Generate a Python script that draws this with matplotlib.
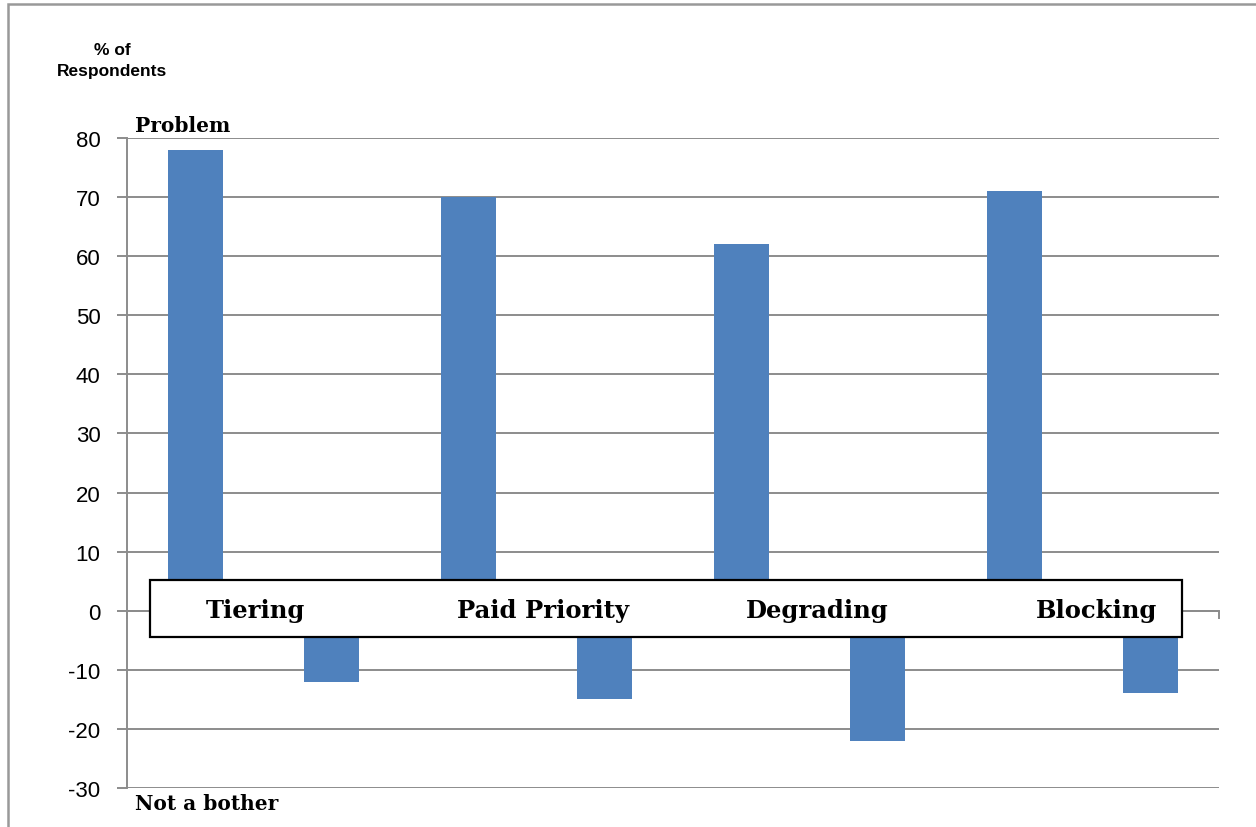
import matplotlib
matplotlib.use("Agg")
from matplotlib import pyplot as plt
from matplotlib.patches import Rectangle

topics = ["Tiering", "Paid Priority", "Degrading", "Blocking"]
problem = [78, 70, 62, 71]
not_a_bother = [-12, -15, -22, -14]
yticks = [-30, -20, -10, 0, 10, 20, 30, 40, 50, 60, 70, 80]

bar_color = "#4f81bd"
grid_color = "#8c8c8c"
W, H = 1256, 828

fig = plt.figure(figsize=(W / 100, H / 100), dpi=100)
ax = fig.add_axes([127 / W, 1 - 789 / H, (1219 - 127) / W, (789 - 139) / H])

# two slots per topic: problem bar then "not a bother" bar
pos_problem = [2 * i + 0.5 for i in range(len(topics))]
pos_bother = [2 * i + 1.5 for i in range(len(topics))]
ax.bar(pos_problem, problem, width=0.4, color=bar_color, zorder=2)
ax.bar(pos_bother, not_a_bother, width=0.4, color=bar_color, zorder=2)

ax.set_xlim(0, 2 * len(topics))
ax.set_ylim(-30, 80)
ax.set_yticks(yticks)
ax.set_yticklabels([str(v) for v in yticks], fontsize=16, family="Liberation Sans")
ax.yaxis.grid(True, color=grid_color, lw=1.4, zorder=0)
ax.tick_params(axis="y", length=7, width=1.4, color=grid_color, pad=12)
ax.set_xticks(range(0, 2 * len(topics) + 1, 2))
ax.set_xticklabels([])
ax.tick_params(axis="x", direction="out", length=6, width=1.4, color=grid_color)

for s in ["top", "right"]:
    ax.spines[s].set_visible(False)
ax.spines["left"].set_color(grid_color)
ax.spines["left"].set_linewidth(1.4)
ax.spines["bottom"].set_position(("data", 0))
ax.spines["bottom"].set_color(grid_color)
ax.spines["bottom"].set_linewidth(1.4)

# white label box over the zero line
box_x0 = (150 - 127) / (1219 - 127) * 8
box_x1 = (1182 - 127) / (1219 - 127) * 8
ax.add_patch(Rectangle((box_x0, -4.4), box_x1 - box_x0, 9.6, facecolor="white",
                       edgecolor="black", lw=1.6, zorder=5, clip_on=False))
label_x = [0.94, 3.05, 5.06, 7.1]
for x, t in zip(label_x, topics):
    ax.text(x, 0.1, t, ha="center", va="center", fontsize=17.5, fontweight="bold",
            family="DejaVu Serif", zorder=6)

fig.text(135 / W, 1 - 126 / H, "Problem", ha="left", va="center", fontsize=14.5,
         fontweight="bold", family="DejaVu Serif")
fig.text(135 / W, 1 - 804 / H, "Not a bother", ha="left", va="center", fontsize=14.5,
         fontweight="bold", family="DejaVu Serif")
fig.text(112 / W, 1 - 61 / H, "% of\nRespondents", ha="center", va="center",
         fontsize=12.5, fontweight="bold", family="Liberation Sans", linespacing=1.5)

# outer chart frame (runs off the right and bottom edges)
fig.patches.append(Rectangle((8 / W, -0.2), 1.5, 1.2 - 5 / H, transform=fig.transFigure,
                             fill=False, edgecolor="#999999", lw=1.8, figure=fig))

fig.savefig("out.png", dpi=100)
